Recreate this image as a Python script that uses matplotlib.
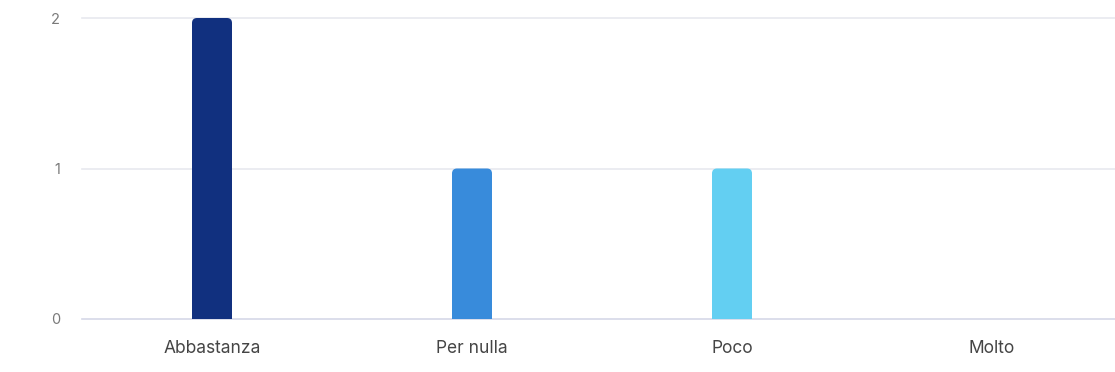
import matplotlib
matplotlib.use("Agg")
import matplotlib.pyplot as plt
from matplotlib.patches import FancyBboxPatch
from matplotlib.transforms import IdentityTransform

categories = ["Abbastanza", "Per nulla", "Poco", "Molto"]
counts = [2, 1, 1, 0]
bar_colors = ["#11307f", "#388bdb", "#63cff2", "#11307f"]
y_ticks = [0, 1, 2]

plt.rcParams["font.family"] = ["Inter", "DejaVu Sans"]

W, H = 1115, 372
fig = plt.figure(figsize=(W / 100, H / 100), dpi=100)
# plot area: x from 82px, one 260px band per category; y=0 at 319px, y=2 at 18px
n = len(categories)
left = 82 / W
width = n * 260 / W
bottom = 1 - 319 / H
height = (319 - 18) / H
ax = fig.add_axes([left, bottom, width, height])

x = list(range(n))
bar_w = 40 / 260
bars = ax.bar(x, counts, width=bar_w, color=bar_colors)

ax.set_xlim(-0.5, n - 0.5)
ax.set_ylim(0, 2)

# rounded top corners: redraw each bar in pixel space as a rounded box whose
# bottom corners fall below the baseline and are clipped by the axes
radius = 5
for rect, c in zip(bars, bar_colors):
    rect.set_visible(False)
    if rect.get_height() <= 0:
        continue
    (x0, y0), (x1, y1) = ax.transData.transform(
        [(rect.get_x(), rect.get_y()),
         (rect.get_x() + rect.get_width(), rect.get_y() + rect.get_height())])
    p = FancyBboxPatch((x0, y0 - 10), x1 - x0, (y1 - y0) + 10,
                       boxstyle=f"round,pad=0,rounding_size={radius}",
                       transform=IdentityTransform(),
                       facecolor=c, edgecolor="none", zorder=3)
    ax.add_artist(p)
    p.set_clip_path(ax.patch)

for s in ax.spines.values():
    s.set_visible(False)

for yv in y_ticks:
    col = "#d6d8e8" if yv == 0 else "#e8e9ef"
    ax.axhline(yv, color=col, lw=1.2, zorder=1, clip_on=False)

ax.set_yticks(y_ticks)
ax.set_yticklabels([str(v) for v in y_ticks])
ax.set_xticks(x)
ax.set_xticklabels(categories)
ax.tick_params(axis="y", length=0, pad=16, labelsize=10.5, labelcolor="#7a7a7a")
ax.tick_params(axis="x", length=0, pad=15, labelsize=12.5, labelcolor="#454545")

fig.savefig("out.png", dpi=100, facecolor="white")
